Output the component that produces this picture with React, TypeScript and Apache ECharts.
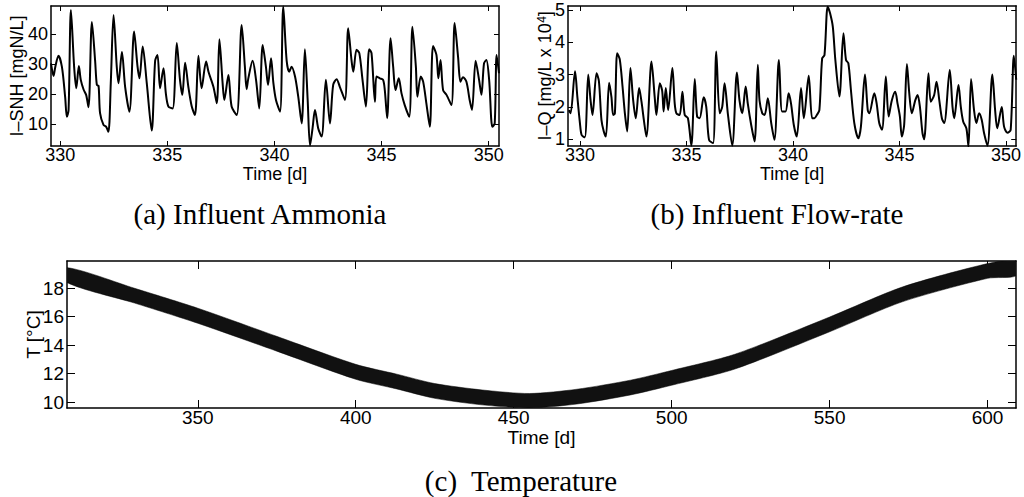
import React, { useEffect, useRef } from "react";
import * as echarts from "echarts";

// ---------- DATA ----------
// (a) Influent ammonia  I-SNH [mgN/L] vs time [d]
const ammoniaDays = [
  329.57, 329.69, 329.77, 329.92, 330.08, 330.23, 330.31, 330.39, 330.5, 330.65, 330.75, 330.87, 330.96,
  331.09, 331.21, 331.32, 331.48, 331.63, 331.71, 331.79, 331.86, 332.02, 332.14, 332.25, 332.36, 332.49,
  332.64, 332.72, 332.88, 333.03, 333.23, 333.45, 333.61, 333.7, 333.85, 334.04, 334.27, 334.43, 334.54,
  334.66, 334.82, 334.93, 335.05, 335.25, 335.44, 335.59, 335.7, 335.83, 335.98, 336.14, 336.29, 336.45,
  336.6, 336.81, 336.92, 337.15, 337.31, 337.43, 337.58, 337.66, 337.85, 338.0, 338.24, 338.47, 338.62,
  338.7, 338.78, 338.98, 339.14, 339.29, 339.45, 339.6, 339.7, 339.84, 339.95, 340.07, 340.26, 340.41,
  340.57, 340.69, 340.8, 340.96, 341.11, 341.27, 341.42, 341.55, 341.66, 341.78, 341.89, 342.04, 342.2,
  342.4, 342.59, 342.74, 342.9, 343.05, 343.29, 343.44, 343.6, 343.68, 343.83, 343.96, 344.11, 344.27,
  344.42, 344.53, 344.69, 344.76, 344.92, 345.07, 345.15, 345.26, 345.42, 345.54, 345.65, 345.8, 345.93,
  346.08, 346.29, 346.44, 346.6, 346.67, 346.83, 346.94, 347.09, 347.25, 347.4, 347.56, 347.65, 347.75,
  347.87, 348.03, 348.26, 348.41, 348.57, 348.68, 348.8, 348.96, 349.11, 349.22, 349.39, 349.55, 349.66,
  349.78, 349.89, 350.02, 350.17, 350.28, 350.37, 350.48,
];
const ammoniaValues = [
  30.2, 26, 29, 32.7, 29, 19, 12.4, 14.7, 48, 29, 21.9, 29.3, 24.7,
  21.5, 19.7, 15.6, 44, 31, 23, 22.7, 13.6, 9.7, 9.1, 7.4, 23.6, 46.3,
  29, 23.6, 34, 22.4, 14.1, 40.8, 29, 25.2, 35.8, 23.6, 7.8, 31, 33,
  21.9, 28.6, 20.2, 15.8, 15.2, 37, 24.7, 19.7, 30.4, 22.4, 15.8, 13, 32.7,
  21.9, 30.8, 27.4, 22.4, 16.9, 38.2, 23.6, 18, 26.3, 15.8, 13, 43, 29,
  21.6, 25.2, 31.1, 24.7, 15.2, 36.3, 29.1, 23, 31.9, 23.6, 18, 14.1, 49.1,
  31, 27.4, 29.1, 25.8, 19.1, 10.2, 34.9, 18, 2.8, 8.7, 14.7, 8.6, 5.8,
  24.7, 10.2, 23, 24.9, 22.4, 18, 41.9, 31, 27.4, 34.7, 33.6, 24.7, 15.8,
  34.9, 33.6, 17.4, 25.8, 25.2, 24.7, 21.3, 11.9, 38.6, 29.1, 21.3, 25.2, 20.2,
  16.3, 12.4, 42.4, 29.1, 19.1, 25.8, 24.1, 16.9, 9.1, 36, 33, 25.2, 31.3,
  21.3, 19.7, 16.3, 43.6, 32.3, 24.1, 25.6, 24.1, 18, 14.7, 31.1, 24.7, 19.7,
  30.2, 31.3, 24.7, 9.1, 10.2, 33, 26.9,
];

// (b) Influent flow-rate  I-Q [mg/L x 10^4] vs time [d]
const flowDays = [
  329.48, 329.56, 329.77, 329.88, 330.0, 330.08, 330.23, 330.39, 330.5, 330.59, 330.78, 330.89, 331.01,
  331.12, 331.22, 331.37, 331.48, 331.56, 331.64, 331.75, 331.87, 332.0, 332.11, 332.22, 332.37, 332.5,
  332.62, 332.78, 332.89, 333.0, 333.12, 333.36, 333.51, 333.59, 333.75, 333.86, 333.93, 334.03, 334.14,
  334.34, 334.45, 334.53, 334.68, 334.81, 334.92, 335.07, 335.23, 335.39, 335.5, 335.62, 335.81, 335.93,
  336.06, 336.25, 336.4, 336.56, 336.68, 336.79, 336.95, 337.15, 337.37, 337.49, 337.62, 337.78, 337.88,
  338.04, 338.2, 338.35, 338.43, 338.56, 338.67, 338.82, 338.98, 339.13, 339.34, 339.49, 339.65, 339.8,
  339.91, 340.04, 340.18, 340.38, 340.51, 340.74, 340.9, 341.01, 341.12, 341.24, 341.37, 341.48, 341.63,
  341.74, 341.87, 341.99, 342.18, 342.37, 342.49, 342.6, 342.72, 342.88, 343.07, 343.19, 343.38, 343.51,
  343.58, 343.82, 343.93, 344.05, 344.18, 344.36, 344.49, 344.64, 344.8, 344.91, 345.02, 345.11, 345.22,
  345.35, 345.46, 345.58, 345.74, 345.85, 345.96, 346.08, 346.16, 346.36, 346.47, 346.63, 346.74, 346.87,
  346.99, 347.1, 347.36, 347.49, 347.57, 347.77, 347.88, 347.99, 348.14, 348.24, 348.36, 348.5, 348.61,
  348.74, 348.86, 348.97, 349.13, 349.36, 349.49, 349.59, 349.8, 349.91, 350.07, 350.22, 350.37, 350.48,
];
const flowValues = [
  1.9, 1.8, 3.1, 2.3, 1.5, 1.13, 1.06, 3.0, 2.2, 1.75, 3.04, 2.8, 1.6,
  1.24, 1.08, 2.75, 2.3, 1.75, 1.8, 3.66, 3.47, 2.63, 1.8, 1.24, 3.2, 2.2,
  1.65, 2.58, 2.16, 1.6, 1.08, 3.4, 2.3, 1.75, 2.73, 2.5, 1.86, 2.58, 1.9,
  3.2, 2.1, 1.8, 1.75, 2.47, 1.75, 1.65, 0.8, 2.86, 1.7, 1.65, 2.3, 2.0,
  0.98, 0.88, 3.71, 1.8, 2.0, 2.73, 1.75, 0.8, 3.06, 2.2, 1.8, 2.63, 2.1,
  1.44, 0.93, 3.3, 2.2, 1.8, 1.75, 2.27, 1.5, 0.98, 3.45, 1.86, 1.86, 2.42,
  2.1, 1.44, 1.08, 2.58, 1.65, 2.96, 1.65, 1.65, 1.75, 1.9, 3.5, 3.6, 5.1,
  4.9, 4.48, 3.45, 2.32, 4.28, 3.45, 3.35, 2.53, 1.5, 1.03, 1.39, 3.0, 1.9,
  1.8, 2.42, 2.1, 1.5, 1.29, 2.94, 1.7, 2.2, 2.47, 2.1, 1.7, 1.08, 1.44,
  3.33, 2.42, 1.8, 2.2, 2.37, 2.0, 1.19, 1.0, 3.04, 2.16, 2.37, 2.78, 2.2,
  1.65, 1.5, 3.14, 2.0, 1.65, 2.68, 2.0, 1.55, 1.34, 0.77, 2.86, 1.9, 1.5,
  1.8, 1.6, 1.19, 0.8, 3.0, 1.9, 1.34, 2.0, 1.39, 1.2, 1.29, 3.58, 2.84,
];

// (c) Temperature T [°C]: envelope of the daily oscillation
const tempDays = [308.6, 330, 350, 375, 400, 413, 425, 440, 455, 470, 487, 500, 520, 550, 573, 600, 609];
const tempUpper = [19.45, 18.0, 16.6, 14.62, 12.65, 11.96, 11.3, 10.85, 10.6, 10.9, 11.54, 12.22, 13.36, 15.98, 18.09, 19.74, 19.92];
const tempLower = [18.41, 16.96, 15.54, 13.58, 11.6, 10.92, 10.26, 9.8, 9.58, 9.86, 10.5, 11.18, 12.32, 14.94, 17.05, 18.7, 18.88];

// tick values
const ammoniaXTicks = [330, 335, 340, 345, 350];
const ammoniaYTicks = [10, 20, 30, 40];
const flowXTicks = [330, 335, 340, 345, 350];
const flowYTicks = [1, 2, 3, 4, 5];
const tempXTicks = [350, 400, 450, 500, 550, 600];
const tempYTicks = [10, 12, 14, 16, 18];

const SANS = '"Liberation Sans", Arial, Helvetica, sans-serif';
const SERIF = '"Liberation Serif", "Times New Roman", serif';

function makeAxes(
  grid: number,
  xr: [number, number],
  xt: number[],
  yr: [number, number],
  yt: number[],
  yName: string,
  yGap: number,
  xGap: number,
  fs: number,
  tick: number,
  yRich?: any
) {
  const line = { show: true, onZero: false, lineStyle: { color: "#000", width: 1.5 } };
  const base = (pos: string, ticks: number[], showLabel: boolean, margin: number) => ({
    type: "value",
    gridIndex: grid,
    position: pos,
    splitLine: { show: false },
    axisLine: line,
    axisTick: { show: true, inside: true, length: tick, lineStyle: { color: "#000", width: 1 }, customValues: ticks },
    axisLabel: {
      show: showLabel,
      customValues: ticks,
      color: "#000",
      fontSize: fs,
      fontFamily: SANS,
      margin,
    },
  });
  const xAxis = [
    {
      ...base("bottom", xt, true, 0),
      min: xr[0],
      max: xr[1],
      name: "Time [d]",
      nameLocation: "middle",
      nameGap: xGap,
      nameMoveOverlap: false,
      nameTextStyle: { color: "#000", fontSize: fs, fontFamily: SANS },
    },
    { ...base("top", xt, false, 0), min: xr[0], max: xr[1] },
  ];
  const yAxis = [
    {
      ...base("left", yt, true, 3),
      min: yr[0],
      max: yr[1],
      name: yName,
      nameLocation: "middle",
      nameRotate: 90,
      nameGap: yGap,
      nameMoveOverlap: false,
      nameTextStyle: { color: "#000", fontSize: fs, fontFamily: SANS, rich: yRich },
    },
    { ...base("right", yt, false, 3), min: yr[0], max: yr[1] },
  ];
  return { xAxis, yAxis };
}

export default function App() {
  const ref = useRef<HTMLDivElement>(null);
  useEffect(() => {
    if (!ref.current) return;
    const chart = echarts.init(ref.current, undefined, { renderer: "svg" });

    const a = makeAxes(0, [329.57, 350.48], ammoniaXTicks, [2.67, 49.3], ammoniaYTicks, "I–SNH [mgN/L]", 25, 19, 18, 5);
    const b = makeAxes(1, [329.44, 350.48], flowXTicks, [0.79, 5.12], flowYTicks, "I–Q [mg/L x 10{sup|4}]", 14, 19, 18, 5, {
      sup: { fontSize: 12, verticalAlign: "top", lineHeight: 12, fontFamily: SANS, color: "#000" },
    });
    const c = makeAxes(2, [308.6, 609], tempXTicks, [9.58, 19.92], tempYTicks, "T [°C]", 24, 20, 19, 8);

    const bandData = tempDays.map((d, i) => [d, tempUpper[i], tempLower[i]]);

    chart.setOption({
      animation: false,
      backgroundColor: "#fff",
      grid: [
        { left: 51, top: 6, width: 448, height: 140 },
        { left: 568, top: 6, width: 449, height: 140 },
        { left: 67, top: 261, width: 949, height: 147 },
      ],
      xAxis: [...a.xAxis, ...b.xAxis, ...c.xAxis],
      yAxis: [...a.yAxis, ...b.yAxis, ...c.yAxis],
      series: [
        {
          type: "line",
          xAxisIndex: 0,
          yAxisIndex: 0,
          data: ammoniaDays.map((d, i) => [d, ammoniaValues[i]]),
          showSymbol: false,
          symbol: "none",
          smooth: 0.3,
          lineStyle: { color: "#000", width: 2 },
          clip: true,
        },
        {
          type: "line",
          xAxisIndex: 2,
          yAxisIndex: 2,
          data: flowDays.map((d, i) => [d, flowValues[i]]),
          showSymbol: false,
          symbol: "none",
          smooth: 0.3,
          lineStyle: { color: "#000", width: 2 },
          clip: true,
        },
        {
          type: "custom",
          xAxisIndex: 4,
          yAxisIndex: 4,
          data: bandData,
          encode: { x: 0, y: [1, 2] },
          clip: true,
          renderItem: (params: any, api: any) => {
            if (params.dataIndex !== 0) return null;
            const top = bandData.map((p) => api.coord([p[0], p[1]]));
            const bot = bandData.map((p) => api.coord([p[0], p[2]])).reverse();
            return {
              type: "polygon",
              shape: { points: top.concat(bot), smooth: 0.25 },
              style: { fill: "#111", stroke: "#000", lineWidth: 0.5 },
            };
          },
        },
      ],
      graphic: [
        {
          type: "text",
          x: 260,
          y: 214,
          style: { text: "(a) Influent Ammonia", fontSize: 29, fontFamily: SERIF, fill: "#000", align: "center", verticalAlign: "middle" },
        },
        {
          type: "text",
          x: 777,
          y: 214,
          style: { text: "(b) Influent Flow-rate", fontSize: 29, fontFamily: SERIF, fill: "#000", align: "center", verticalAlign: "middle" },
        },
        {
          type: "text",
          x: 521,
          y: 481,
          style: { text: "(c)  Temperature", fontSize: 29, fontFamily: SERIF, fill: "#000", align: "center", verticalAlign: "middle" },
        },
      ],
    });
    return () => chart.dispose();
  }, []);
  return <div ref={ref} style={{ position: "fixed", left: 0, top: 0, width: 1024, height: 497 }} />;
}
